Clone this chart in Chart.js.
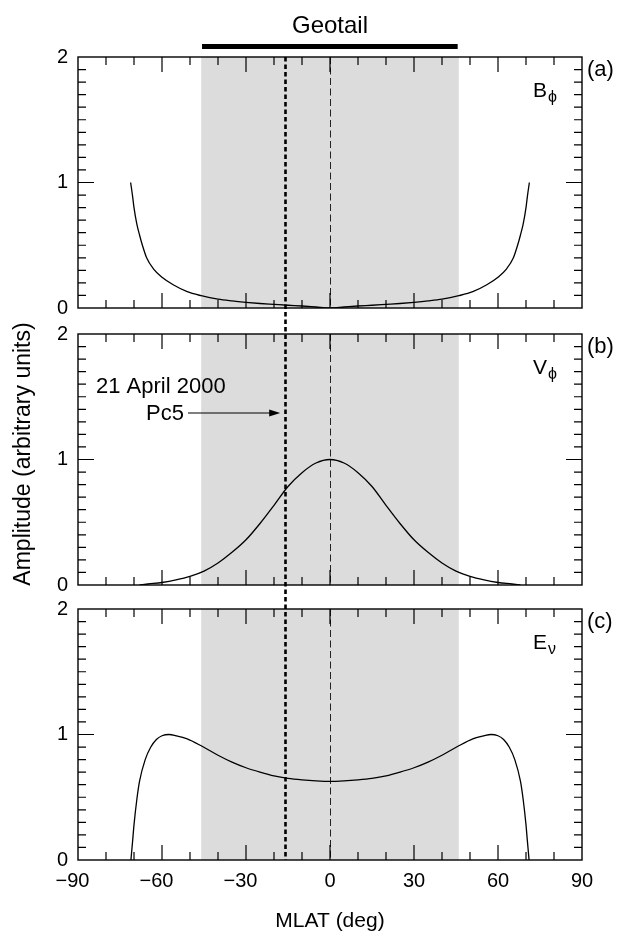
<!DOCTYPE html>
<html>
<head>
<meta charset="utf-8">
<script src="https://cdn.jsdelivr.net/npm/chart.js@4.4.1/dist/chart.umd.min.js"></script>
<style>
  html, body { margin: 0; padding: 0; background: #fff; }
  #wrap { position: relative; width: 623px; height: 934px; overflow: hidden; }
  canvas { position: absolute; left: 0; }
</style>
</head>
<body>
<div id="wrap">
  <canvas id="panelA" style="top:0px" width="623" height="321"></canvas>
  <canvas id="panelB" style="top:321px" width="623" height="275"></canvas>
  <canvas id="panelC" style="top:596px" width="623" height="338"></canvas>
</div>
<script>
// =============================
// DATA
// =============================

const bPhiLat = [-71.2, -70.5, -70, -69, -68, -67, -65.5, -63, -60, -56, -51, -46, -40, -35, -30, -25, -20, -15, -10, -5, 0,
  5, 10, 15, 20, 25, 30, 35, 40, 46, 51, 56, 60, 63, 65.5, 67, 68, 69, 70, 70.5, 71.2];
const bPhiAmp = [1.0, 0.89, 0.80, 0.67, 0.58, 0.50, 0.40, 0.31, 0.245, 0.185, 0.13, 0.098, 0.07, 0.056, 0.045, 0.036, 0.029, 0.022, 0.016, 0.008, 0,
  0.008, 0.016, 0.022, 0.029, 0.036, 0.045, 0.056, 0.07, 0.098, 0.13, 0.185, 0.245, 0.31, 0.40, 0.50, 0.58, 0.67, 0.80, 0.89, 1.0];

const vPhiLat = [-68, -65, -60, -55, -50, -45, -40, -35, -30, -25, -20, -15, -10, -5, 0,
  5, 10, 15, 20, 25, 30, 35, 40, 45, 50, 55, 60, 65, 68];
const vPhiAmp = [0, 0.008, 0.02, 0.04, 0.068, 0.11, 0.175, 0.26, 0.36, 0.49, 0.635, 0.785, 0.895, 0.972, 1.0,
  0.972, 0.895, 0.785, 0.635, 0.49, 0.36, 0.26, 0.175, 0.11, 0.068, 0.04, 0.02, 0.008, 0];

const eNuLat = [-71.1, -70.5, -70, -69, -68, -66, -64, -62, -60, -57.5, -55, -51, -46, -40, -35, -30, -25, -20, -15, -10, -5, 0,
  5, 10, 15, 20, 25, 30, 35, 40, 46, 51, 55, 57.5, 60, 62, 64, 66, 68, 69, 70, 70.5, 71.1];
const eNuAmp = [0, 0.15, 0.28, 0.48, 0.63, 0.80, 0.90, 0.96, 0.99, 1.0, 0.99, 0.965, 0.91, 0.835, 0.78, 0.735, 0.70, 0.67, 0.65, 0.638, 0.63, 0.626,
  0.63, 0.638, 0.65, 0.67, 0.70, 0.735, 0.78, 0.835, 0.91, 0.965, 0.99, 1.0, 0.99, 0.96, 0.90, 0.80, 0.63, 0.48, 0.28, 0.15, 0];

const geotailRange = [-46, 46];   // shaded band (deg)
const geotailBar = [-45.7, 45.6]; // bar above panel (a)
const eventLat = -16;             // 21 April 2000 Pc5
const xTickLabels = [-90, -60, -30, 0, 30, 60, 90];
const yTickLabels = [0, 1, 2];

const FONT = "'Liberation Sans', Arial, Helvetica, sans-serif";

// =============================
// DRAWING PLUGIN
// =============================

const panelPlugin = {
  id: "panel",
  beforeDatasetsDraw(chart, args, o) {
    const { ctx, chartArea: a, scales: { x } } = chart;
    ctx.save();

    // shaded Geotail region
    const s0 = x.getPixelForValue(geotailRange[0]);
    const s1 = x.getPixelForValue(geotailRange[1]);
    ctx.fillStyle = "#dcdcdc";
    ctx.fillRect(s0, a.top, s1 - s0, a.bottom - a.top);

    // equator dashed line
    const z = Math.round(x.getPixelForValue(0)) + 0.5;
    ctx.strokeStyle = "#222";
    ctx.lineWidth = 1;
    ctx.setLineDash([7, 3.5]);
    ctx.beginPath();
    ctx.moveTo(z, a.top);
    ctx.lineTo(z, a.bottom);
    ctx.stroke();

    // event dotted line, runs through gaps between panels
    const ex = Math.round(x.getPixelForValue(eventLat)) + 0.5;
    const y0 = o.eventFromTop ? 0 : a.top;
    const y1 = o.eventToBottom ? chart.height : a.bottom;
    ctx.strokeStyle = "#000";
    ctx.lineWidth = 2.6;
    ctx.setLineDash([4.5, 3]);
    ctx.lineDashOffset = o.canvasTop + y0 - 57;
    ctx.beginPath();
    ctx.moveTo(ex, y0);
    ctx.lineTo(ex, y1);
    ctx.stroke();
    ctx.restore();
  },
  afterDatasetsDraw(chart, args, o) {
    const { ctx, chartArea: a, scales: { x, y } } = chart;
    ctx.save();
    ctx.strokeStyle = "#000";
    ctx.lineWidth = 1.4;
    ctx.setLineDash([]);

    // frame
    ctx.strokeRect(a.left, a.top, a.right - a.left, a.bottom - a.top);

    // inward ticks
    ctx.lineWidth = 1.2;
    ctx.beginPath();
    for (let d = -80; d <= 80; d += 10) {
      const px = x.getPixelForValue(d);
      const len = d % 30 === 0 ? 15 : 8;
      ctx.moveTo(px, a.top);
      ctx.lineTo(px, a.top + len);
      ctx.moveTo(px, a.bottom);
      ctx.lineTo(px, a.bottom - len);
    }
    for (let i = 1; i < 20; i++) {
      const py = y.getPixelForValue(i / 10);
      const len = i === 10 ? 16 : 8;
      ctx.moveTo(a.left, py);
      ctx.lineTo(a.left + len, py);
      ctx.moveTo(a.right, py);
      ctx.lineTo(a.right - len, py);
    }
    ctx.stroke();

    // panel tag, e.g. (a)
    ctx.fillStyle = "#000";
    ctx.font = "22px " + FONT;
    ctx.textAlign = "left";
    ctx.textBaseline = "alphabetic";
    ctx.fillText(o.tag, a.right + 5, a.top + 19);

    // quantity label with subscript
    ctx.font = "21px " + FONT;
    ctx.fillText(o.main, a.right - 49, a.top + 40);
    const mw = ctx.measureText(o.main).width;
    ctx.font = "16px " + FONT;
    ctx.fillText(o.sub, a.right - 49 + mw + 1, a.top + 45);

    if (o.extra) o.extra(chart, ctx);
    ctx.restore();
  }
};

function drawGeotail(chart, ctx) {
  const x = chart.scales.x;
  const b0 = x.getPixelForValue(geotailBar[0]);
  const b1 = x.getPixelForValue(geotailBar[1]);
  ctx.fillStyle = "#000";
  ctx.fillRect(b0, 44, b1 - b0, 5);
  ctx.font = "24px " + FONT;
  ctx.textAlign = "center";
  ctx.fillText("Geotail", x.getPixelForValue(0), 33);
}

function drawAnnotation(chart, ctx) {
  const x = chart.scales.x;
  // y-axis title across all panels (canvas B starts at page y 321)
  ctx.save();
  ctx.translate(30, 454 - 321);
  ctx.rotate(-Math.PI / 2);
  ctx.font = "23px " + FONT;
  ctx.textAlign = "center";
  ctx.fillText("Amplitude (arbitrary units)", 0, 0);
  ctx.restore();

  ctx.font = "22px " + FONT;
  ctx.textAlign = "left";
  ctx.fillText("21 April 2000", 96, 393 - 321);
  ctx.textAlign = "right";
  ctx.fillText("Pc5", 184, 420 - 321);

  const ay = 413 - 321;
  const tip = x.getPixelForValue(eventLat) - 5;
  ctx.lineWidth = 1.2;
  ctx.beginPath();
  ctx.moveTo(188, ay);
  ctx.lineTo(tip - 9, ay);
  ctx.stroke();
  ctx.beginPath();
  ctx.moveTo(tip, ay);
  ctx.lineTo(tip - 11, ay - 3.5);
  ctx.lineTo(tip - 11, ay + 3.5);
  ctx.closePath();
  ctx.fill();
}

function drawXTitle(chart, ctx) {
  ctx.font = "21px " + FONT;
  ctx.textAlign = "center";
  ctx.fillText("MLAT (deg)", chart.scales.x.getPixelForValue(0), 927 - 596);
}

// =============================
// PANELS
// =============================

function createPanel(id, lat, amp, cfg) {
  const ctx = document.getElementById(id);
  return new Chart(ctx, {
    type: "line",
    data: {
      datasets: [
        {
          data: lat.map((v, i) => ({ x: v, y: amp[i] })),
          borderColor: "#000",
          borderWidth: 1.3,
          pointRadius: 0,
          cubicInterpolationMode: "monotone",
          fill: false,
        },
      ],
    },
    options: {
      responsive: false,
      animation: false,
      events: [],
      layout: { padding: { top: cfg.padTop, bottom: cfg.padBottom, left: 0, right: 41 } },
      plugins: {
        legend: { display: false },
        tooltip: { enabled: false },
        panel: cfg.panel,
      },
      scales: {
        x: {
          type: "linear",
          min: -90,
          max: 90,
          display: cfg.showX,
          grid: { display: false, drawTicks: false },
          border: { display: false },
          afterBuildTicks: (s) => { s.ticks = xTickLabels.map((v) => ({ value: v })); },
          ticks: {
            autoSkip: false,
            maxRotation: 0,
            padding: 9,
            color: "#000",
            font: { family: FONT, size: 20 },
            // minus sign hangs to the left of the centred digits
            callback: (v) => (v < 0 ? "\u2212" + Math.abs(v) + "\u2007" : String(v)),
          },
          afterFit: (s) => { s.height = cfg.showX ? 74 : 0; },
        },
        y: {
          min: 0,
          max: 2,
          grid: { display: false, drawTicks: false },
          border: { display: false },
          afterBuildTicks: (s) => { s.ticks = yTickLabels.map((v) => ({ value: v })); },
          ticks: {
            padding: 10,
            color: "#000",
            font: { family: FONT, size: 20 },
          },
          afterFit: (s) => {
            s.width = 78;
            s.paddingTop = 0;
            s.paddingBottom = 0;
          },
        },
      },
    },
    plugins: [panelPlugin],
  });
}

createPanel("panelA", bPhiLat, bPhiAmp, {
  padTop: 57,
  padBottom: 13,
  showX: false,
  panel: { tag: "(a)", main: "B", sub: "\u03D5", canvasTop: 0, eventFromTop: false, eventToBottom: true, extra: drawGeotail },
});

createPanel("panelB", vPhiLat, vPhiAmp, {
  padTop: 13,
  padBottom: 11,
  showX: false,
  panel: { tag: "(b)", main: "V", sub: "\u03D5", canvasTop: 321, eventFromTop: true, eventToBottom: true, extra: drawAnnotation },
});

createPanel("panelC", eNuLat, eNuAmp, {
  padTop: 13,
  padBottom: 0,
  showX: true,
  panel: { tag: "(c)", main: "E", sub: "\u03BD", canvasTop: 596, eventFromTop: true, eventToBottom: false, extra: drawXTitle },
});
</script>
</body>
</html>
